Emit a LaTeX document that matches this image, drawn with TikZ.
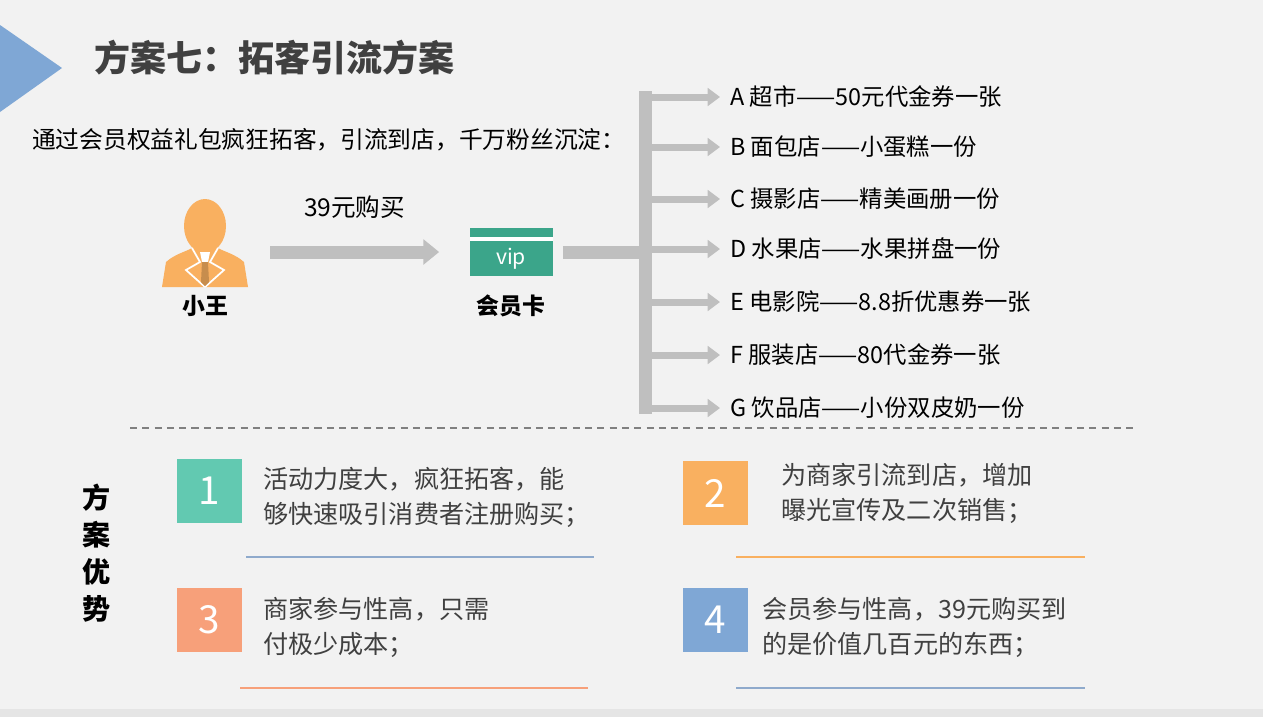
\documentclass[tikz,border=0pt]{standalone}
\usepackage{fontspec}
\setmainfont{Noto Sans CJK SC}
\usepackage{tikz}
\usetikzlibrary{arrows.meta,positioning,shapes.geometric}
\definecolor{bgray}{HTML}{F2F2F2}
\definecolor{agray}{HTML}{BFBFBF}
\definecolor{tgray}{HTML}{404040}
\definecolor{cgreen}{HTML}{3BA58A}
\definecolor{cteal}{HTML}{62C9B1}
\definecolor{corange}{HTML}{F9B060}
\definecolor{csalmon}{HTML}{F7A07A}
\definecolor{cblue}{HTML}{7FA7D5}
\definecolor{lblue}{HTML}{8FAACC}
\begin{document}
\begin{tikzpicture}
  [
    x=0.02cm, y=-0.02cm,
    fat/.style={draw=agray,line width=13*0.02cm},
    fatarrow/.style={fat,-{Triangle[length=9pt,width=14pt]}},
    branch/.style={draw=agray,line width=7*0.02cm,-{Triangle[length=7pt,width=10pt]}},
    shop/.style={anchor=west,font=\fontsize{13.3pt}{15pt}\selectfont,text=black,inner sep=0pt},
    numbox/.style={minimum width=65*0.02cm,minimum height=64*0.02cm,inner sep=0pt,text=white,font=\fontsize{22pt}{24pt}\selectfont},
    perk/.style={anchor=west,align=left,font=\fontsize{14.3pt}{20pt}\selectfont,text=tgray,inner sep=0pt}
  ]
  \fill[bgray] (0,0) rectangle (1263,717);
  \useasboundingbox (0,0) rectangle (1263,717);
  \fill[gray!20] (0,709) rectangle (1263,717);
  \fill[cblue] (0,25) -- (62,68) -- (0,112) -- cycle;
  \node[anchor=west,text=tgray,font=\bfseries\fontsize{20.5pt}{22pt}\selectfont] (title) at (88,58) {方案七：拓客引流方案};
  \node[anchor=west,font=\fontsize{13.5pt}{15pt}\selectfont] (intro) at (26,140) {通过会员权益礼包疯狂拓客，引流到店，千万粉丝沉淀：};
  % person
  \fill[corange] (162,287) -- (166,262) .. controls (175,254) and (185,252) .. (192,248)
    -- (218,248) .. controls (225,252) and (235,254) .. (244,262) -- (248,287) -- cycle;
  \fill[corange] (205,226) ellipse (21 and 27);
  \draw[white,line width=1pt] (192,248) -- (200,262) -- (186,270) -- (205,287)
    (218,248) -- (210,262) -- (224,270) -- (205,287);
  \fill[white] (200,252) -- (210,252) -- (208,262) -- (202,262) -- cycle;
  \fill[corange!80!black] (202,262) -- (208,262) -- (209,282) -- (205,286) -- (201,282) -- cycle;
  \node[font=\bfseries\fontsize{13pt}{15pt}\selectfont] (wang) at (205,306) {小王};
  \coordinate (buy) at (270,252);
  % card
  \node[fill=cgreen,minimum width=83*0.02cm,minimum height=48*0.02cm,inner sep=0pt] (card) at (511,252) {};
  \fill[white] (470,237) rectangle (553,241);
  \node[text=white,font=\fontsize{12pt}{14pt}\selectfont] (vip) at (511,259) {vip};
  \node[font=\bfseries\fontsize{13pt}{15pt}\selectfont] (cardlabel) at (511,306) {会员卡};
  \draw[fatarrow] (buy) -- ([xshift=-30*0.02cm]card.west) node[midway,above=12pt,font=\fontsize{14pt}{16pt}\selectfont] (price) {39元购买};
  % shops
  \coordinate (hub) at (645,252);
  \draw[fat] (card.east) ++(10,0) -- (hub);
  \draw[draw=agray,line width=13*0.02cm] (645,91) -- (645,414);
  \foreach \y/\name/\txt in {97/a/A 超市——50元代金券一张, 147/b/B 面包店——小蛋糕一份,
      199/c/C 摄影店——精美画册一份, 249/d/D 水果店——水果拼盘一份,
      302/e/E 电影院——8.8折优惠券一张, 355/f/F 服装店——80代金券一张,
      408/g/G 饮品店——小份双皮奶一份} {
    \node[shop] (\name) at (730,\y) {\txt};
    \coordinate (t\name) at (645,\y);
    \draw[branch] (t\name) -- ([xshift=-10*0.02cm]\name.west);
  }
  \draw[gray,line width=0.8pt,dash pattern=on 4pt off 3pt] (130,428) -- (1135,428);
  % advantages
  \node[align=center,font=\bfseries\fontsize{16pt}{21pt}\selectfont] (adv) at (97,553) {方\\案\\优\\势};
  \node[numbox,fill=cteal] (n1) at (209,491) {1};
  \node[numbox,fill=corange] (n2) at (715,493) {2};
  \node[numbox,fill=csalmon] (n3) at (209,620) {3};
  \node[numbox,fill=cblue] (n4) at (715,620) {4};
  \node[perk] (p1) at (263,497) {活动力度大，疯狂拓客，能\\够快速吸引消费者注册购买；};
  \node[perk] (p2) at (781,493) {为商家引流到店，增加\\曝光宣传及二次销售；};
  \node[perk] (p3) at (263,627) {商家参与性高，只需\\付极少成本；};
  \node[perk] (p4) at (762,627) {会员参与性高，39元购买到\\的是价值几百元的东西；};
  \draw[lblue,line width=1pt] (246,557) -- (594,557);
  \draw[corange,line width=1pt] (736,557) -- (1085,557);
  \draw[csalmon,line width=1pt] (240,688) -- (588,688);
  \draw[lblue,line width=1pt] (736,688) -- (1085,688);
\end{tikzpicture}
\end{document}
